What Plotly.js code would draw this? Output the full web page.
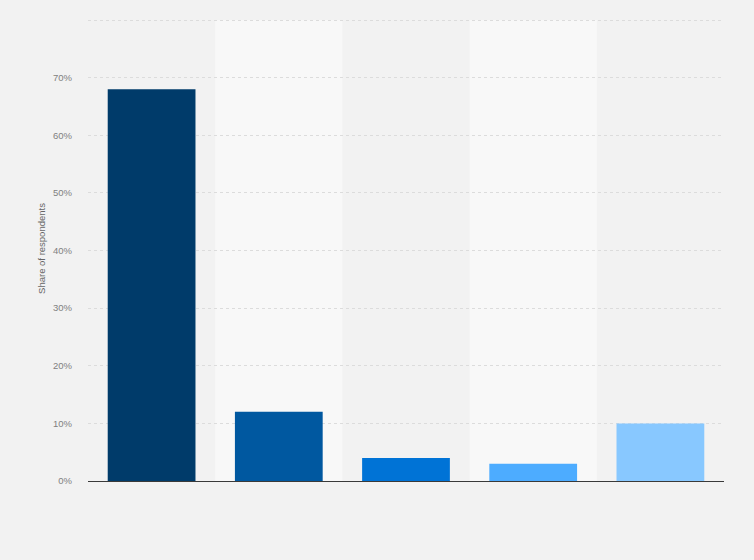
<!DOCTYPE html>
<html>
<head>
<meta charset="utf-8">
<script src="https://cdn.plot.ly/plotly-3.0.1.min.js"></script>
<style>
  html, body { margin: 0; padding: 0; background: #f2f2f2; }
  #chart { width: 754px; height: 560px; }
</style>
</head>
<body>
<div id="chart"></div>
<script>
// chart values
const categories = ['Answer 1', 'Answer 2', 'Answer 3', 'Answer 4', 'Answer 5'];
const shares = [68, 12, 4, 3, 10];
const barColors = ['#003b6a', '#0058a0', '#0073d6', '#4dacff', '#88c8ff'];
const tickValues = [0, 10, 20, 30, 40, 50, 60, 70, 80];
const tickLabels = ['0%', '10%', '20%', '30%', '40%', '50%', '60%', '70%', ''];

// lighter bands behind every second column
const bands = categories
  .map((c, i) => i)
  .filter(i => i % 2 === 1)
  .map(i => ({
    type: 'rect', xref: 'x', yref: 'y', layer: 'below',
    x0: i - 0.5, x1: i + 0.5, y0: 0, y1: 80,
    fillcolor: '#f8f8f8', line: {width: 0}
  }));

const trace = {
  type: 'bar',
  x: categories.map((c, i) => i),
  y: shares,
  marker: {color: barColors, line: {width: 0}},
  hoverinfo: 'none'
};

const layout = {
  width: 754,
  height: 560,
  paper_bgcolor: '#f2f2f2',
  plot_bgcolor: '#f2f2f2',
  margin: {l: 88, r: 30, t: 16, b: 79},
  bargap: 0.31,
  showlegend: false,
  shapes: bands,
  font: {family: 'Arial, Liberation Sans, sans-serif', color: '#666666'},
  xaxis: {
    range: [-0.5, categories.length - 0.5],
    showticklabels: false,
    showgrid: false,
    zeroline: false,
    showline: true,
    linecolor: '#3a3a3a',
    linewidth: 1.2,
    fixedrange: true
  },
  yaxis: {
    range: [0, 80.7],
    tickvals: tickValues,
    ticktext: tickLabels,
    tickfont: {size: 9.5, color: '#808080'},
    ticks: '',
    ticklabelstandoff: 15,
    showgrid: true,
    gridcolor: '#dcdcdc',
    griddash: 'dot',
    gridwidth: 1,
    zeroline: false,
    title: {text: 'Share of respondents', font: {size: 9.5, color: '#666666'}, standoff: 5},
    fixedrange: true
  }
};

Plotly.newPlot('chart', [trace], layout, {displayModeBar: false, staticPlot: true});
</script>
</body>
</html>
